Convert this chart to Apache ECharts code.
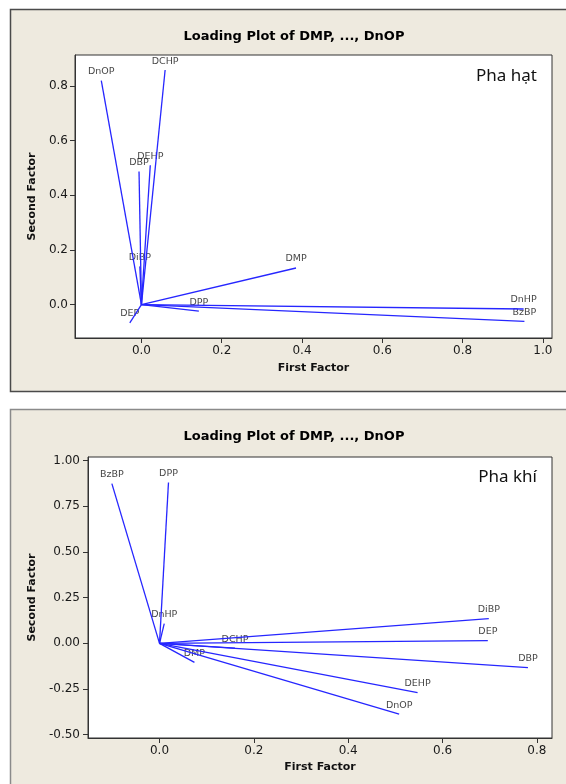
<!DOCTYPE html>
<html>
<head>
<meta charset="utf-8">
<script src="https://cdn.jsdelivr.net/npm/echarts@6/dist/echarts.min.js"></script>
<style>
  html, body { margin: 0; padding: 0; background: #fff; }
  #main { width: 566px; height: 784px; }
</style>
</head>
<body>
<div id="main"></div>
<script>
// Pha hạt (particle phase) loadings
var hatNames = ["DMP", "DEP", "DPP", "DiBP", "DnHP", "BzBP", "DCHP", "DBP", "DEHP", "DnOP"];
var hatX = [0.385, -0.029, 0.143, -0.004, 0.952, 0.954, 0.059, -0.006, 0.022, -0.100];
var hatY = [0.134, -0.067, -0.024, 0.140, -0.016, -0.061, 0.858, 0.487, 0.510, 0.819];

// Pha khí (gas phase) loadings
var khiNames = ["DMP", "DEP", "DPP", "DiBP", "DnHP", "BzBP", "DCHP", "DBP", "DEHP", "DnOP"];
var khiX = [0.074, 0.696, 0.019, 0.698, 0.010, -0.101, 0.160, 0.781, 0.547, 0.508];
var khiY = [-0.104, 0.015, 0.880, 0.135, 0.108, 0.874, -0.026, -0.133, -0.270, -0.387];

// tick labels
var hatXTicks = [0, 0.2, 0.4, 0.6, 0.8, 1.0];
var hatYTicks = [0, 0.2, 0.4, 0.6, 0.8];
var khiXTicks = [0, 0.2, 0.4, 0.6, 0.8];
var khiYTicks = [-0.5, -0.25, 0, 0.25, 0.5, 0.75, 1.0];

var blue = "#2626ff";
var tickFont = { color: "#1a1a1a", fontSize: 12, fontFamily: "DejaVu Sans" };
var nameFont = { color: "#111", fontSize: 11, fontWeight: "bold", fontFamily: "DejaVu Sans" };

function makeAxis(idx, min, max, ticks, digits, name, gap, margin) {
  return {
    type: "value",
    gridIndex: idx,
    min: min,
    max: max,
    name: name,
    nameLocation: "middle",
    nameGap: gap,
    nameTextStyle: nameFont,
    axisLine: { show: true, onZero: false, lineStyle: { color: "#333", width: 1 } },
    axisTick: { show: true, length: 5, customValues: ticks, lineStyle: { color: "#333" } },
    axisLabel: {
      customValues: ticks,
      margin: margin,
      formatter: function (v) { return v.toFixed(digits); },
      color: tickFont.color,
      fontSize: tickFont.fontSize,
      fontFamily: tickFont.fontFamily
    },
    splitLine: { show: false }
  };
}

// 每个变量一条从原点出发的线 + 端点标签
function buildSeries(idx, names, xs, ys) {
  var out = [];
  names.forEach(function (n, i) {
    out.push({
      type: "line",
      xAxisIndex: idx,
      yAxisIndex: idx,
      data: [[0, 0], [xs[i], ys[i]]],
      symbol: "none",
      silent: true,
      animation: false,
      lineStyle: { color: blue, width: 1.3 }
    });
  });
  out.push({
    type: "scatter",
    xAxisIndex: idx,
    yAxisIndex: idx,
    symbolSize: 0,
    animation: false,
    data: names.map(function (n, i) { return { value: [xs[i], ys[i]], name: n }; }),
    label: {
      show: true,
      position: "top",
      distance: 4,
      formatter: "{b}",
      color: "#111",
      fontSize: 9.5,
      fontFamily: "DejaVu Sans"
    }
  });
  return out;
}

var chart = echarts.init(document.getElementById("main"));
var option = {
  backgroundColor: "#fff",
  animation: false,
  graphic: [
    { type: "rect", z: -10, shape: { x: 10.5, y: 9.5, width: 600, height: 382 },
      style: { fill: "#eeeadf", stroke: "#4a4a4a", lineWidth: 1.5 } },
    { type: "rect", z: -10, shape: { x: 10.5, y: 409.5, width: 600, height: 400 },
      style: { fill: "#eeeadf", stroke: "#8a8a8a", lineWidth: 1.5 } },
    { type: "text", z: 10, style: { text: "Loading Plot of DMP, ..., DnOP", x: 294, y: 37,
      textAlign: "center", textVerticalAlign: "middle", fill: "#000",
      font: "bold 13px 'DejaVu Sans'" } },
    { type: "text", z: 10, style: { text: "Loading Plot of DMP, ..., DnOP", x: 294, y: 437,
      textAlign: "center", textVerticalAlign: "middle", fill: "#000",
      font: "bold 13px 'DejaVu Sans'" } },
    { type: "text", z: 10, style: { text: "Pha hạt", x: 537, y: 76,
      textAlign: "right", textVerticalAlign: "middle", fill: "#111",
      font: "17px 'Noto Sans'" } },
    { type: "text", z: 10, style: { text: "Pha khí", x: 537, y: 477,
      textAlign: "right", textVerticalAlign: "middle", fill: "#111",
      font: "17px 'Noto Sans'" } }
  ],
  grid: [
    { left: 75, top: 55, width: 477, height: 283, show: true, backgroundColor: "#fff",
      borderColor: "#333", borderWidth: 1 },
    { left: 88, top: 457, width: 464, height: 281, show: true, backgroundColor: "#fff",
      borderColor: "#333", borderWidth: 1 }
  ],
  xAxis: [
    makeAxis(0, -0.1655, 1.0227, hatXTicks, 1, "First Factor", 25, 7),
    makeAxis(1, -0.1516, 0.832, khiXTicks, 1, "First Factor", 24, 7)
  ],
  yAxis: [
    makeAxis(0, -0.122, 0.913, hatYTicks, 1, "Second Factor", 35, 7),
    makeAxis(1, -0.518, 1.0197, khiYTicks, 2, "Second Factor", 47, 8)
  ],
  series: buildSeries(0, hatNames, hatX, hatY).concat(buildSeries(1, khiNames, khiX, khiY))
};
chart.setOption(option);
</script>
</body>
</html>
